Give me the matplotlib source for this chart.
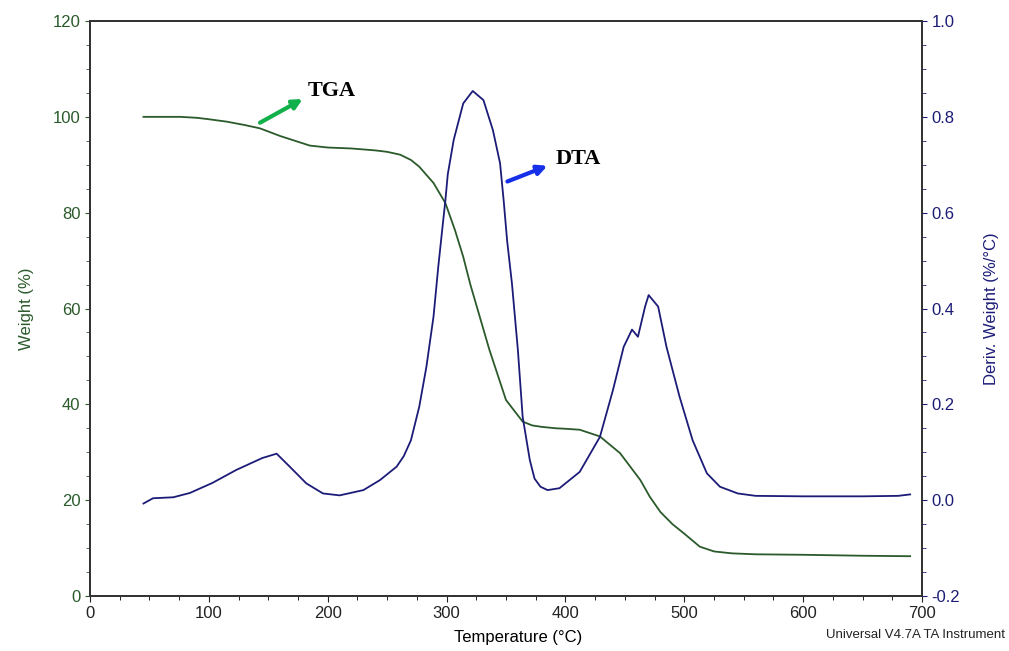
import matplotlib
matplotlib.use('Agg')
import matplotlib.pyplot as plt
from matplotlib.ticker import MultipleLocator

plt.rcParams['font.family'] = ['Liberation Sans', 'DejaVu Sans']

# TGA curve: temperature (C) vs weight (%)
tga_temp = [45, 60, 76, 90, 100, 115, 130, 143, 160, 175, 185, 200, 220, 240, 250,
            261, 270, 277, 289, 299, 307, 314, 320, 336, 350, 364, 372, 380, 392, 400,
            412, 429, 446, 463, 471, 480, 490, 500, 513, 525, 540, 560, 600, 650, 690]
tga_weight = [100, 100, 100, 99.8, 99.5, 99.0, 98.3, 97.6, 96.0, 94.8, 94.0, 93.6, 93.4,
              93.0, 92.7, 92.1, 91.0, 89.6, 86.2, 82.0, 76.4, 70.8, 65.0, 51.4, 40.9,
              36.4, 35.6, 35.3, 35.0, 34.9, 34.7, 33.3, 29.8, 24.2, 20.7, 17.5, 15.0,
              13.0, 10.3, 9.3, 8.9, 8.7, 8.6, 8.4, 8.3]

# DTA curve: temperature (C) vs derivative weight (%/C)
dta_temp = [45, 53, 70, 84, 103, 123, 145, 157, 168, 182, 196, 210, 230, 244, 258,
            264, 270, 277, 283, 289, 293, 296, 299, 301, 306, 314, 322, 331, 339,
            345, 348, 351, 355, 360, 364, 370, 374, 379, 385, 395, 412, 429, 440,
            449, 456, 461, 467, 470, 478, 485, 496, 507, 519, 530, 545, 560, 600,
            620, 650, 680, 690]
dta_deriv = [-0.007, 0.004, 0.006, 0.015, 0.036, 0.063, 0.088, 0.097, 0.070, 0.035,
             0.014, 0.010, 0.021, 0.042, 0.070, 0.092, 0.125, 0.195, 0.278, 0.383,
             0.487, 0.557, 0.626, 0.680, 0.752, 0.828, 0.854, 0.835, 0.772, 0.703,
             0.626, 0.540, 0.452, 0.313, 0.174, 0.084, 0.045, 0.028, 0.021, 0.025,
             0.059, 0.132, 0.230, 0.320, 0.356, 0.341, 0.404, 0.428, 0.404, 0.320,
             0.216, 0.125, 0.056, 0.028, 0.014, 0.009, 0.008, 0.008, 0.008, 0.009,
             0.012]

green = '#2b5a2b'
navy = '#1c1c78'

fig = plt.figure(figsize=(10.09, 6.51), dpi=100)
ax = fig.add_axes([0.0892, 0.0845, 0.8246, 0.8832])
ax2 = ax.twinx()

ax.plot(tga_temp, tga_weight, color=green, lw=1.3)
ax2.plot(dta_temp, dta_deriv, color=navy, lw=1.3)

ax.set_xlim(0, 700)
ax.set_ylim(0, 120)
ax2.set_ylim(-0.2, 1.0)

ax.xaxis.set_major_locator(MultipleLocator(100))
ax.xaxis.set_minor_locator(MultipleLocator(25))
ax.yaxis.set_major_locator(MultipleLocator(20))
ax.yaxis.set_minor_locator(MultipleLocator(5))
ax2.yaxis.set_major_locator(MultipleLocator(0.2))
ax2.yaxis.set_minor_locator(MultipleLocator(0.05))

ax.tick_params(axis='x', which='major', length=4, labelsize=12, colors='#222222')
ax.tick_params(axis='x', which='minor', length=3)
ax.tick_params(axis='y', which='both', colors=green, labelsize=12)
ax.tick_params(axis='y', which='minor', length=3)
ax2.tick_params(axis='y', which='both', colors=navy, labelsize=12)
ax2.tick_params(axis='y', which='minor', length=3)
ax2.set_yticks(ax2.get_yticks())
ax2.set_yticklabels(['%.1f' % v for v in ax2.get_yticks()])
ax2.set_ylim(-0.2, 1.0)

for a in (ax, ax2):
    for s in a.spines.values():
        s.set_color('#333333')
        s.set_linewidth(1.3)

ax.set_xlabel('Temperature (°C)', fontsize=12, labelpad=6, x=0.515)
ax.set_ylabel('Weight (%)', fontsize=12, color=green, labelpad=13)
ax2.set_ylabel('Deriv. Weight (%/°C)', fontsize=12, color=navy, labelpad=17)

# labels with arrows
ax.annotate('', xy=(181, 104), xytext=(141, 98.5),
            arrowprops=dict(arrowstyle='-|>', color='#12b04a', lw=3, mutation_scale=14))
ax.text(183, 105.5, 'TGA', fontsize=16, fontweight='bold', family='Liberation Serif',
        va='center', ha='left')
ax2.annotate('', xy=(387, 0.70), xytext=(349, 0.663),
             arrowprops=dict(arrowstyle='-|>', color='#1530e8', lw=3, mutation_scale=14))
ax2.text(392, 0.712, 'DTA', fontsize=16, fontweight='bold', family='Liberation Serif',
         va='center', ha='left')

fig.text(0.996, 0.024, 'Universal V4.7A TA Instrument', fontsize=9.5, ha='right',
         va='center', color='#222222')

fig.savefig('out.png', dpi=100)
